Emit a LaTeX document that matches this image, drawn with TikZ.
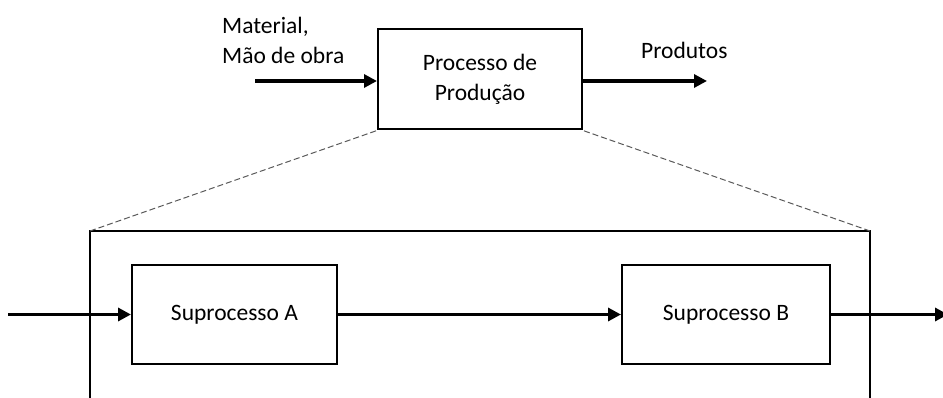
\documentclass[tikz,border=0pt]{standalone}
\usepackage{fontspec}
\setmainfont{Carlito}
\usetikzlibrary{arrows.meta}
\begin{document}
\begin{tikzpicture}[x=1pt,y=-1pt,
  procbox/.style={draw,line width=2pt,minimum width=#1,minimum height=100pt,inner sep=0pt,align=center,font=\fontsize{23.5}{30}\selectfont},
  flow/.style={line width=3.2pt,-{Triangle[length=13pt,width=13pt]}},
  lbl/.style={font=\fontsize{23.5}{30}\selectfont,inner sep=0pt,align=left},
  frame/.style={line width=2.5pt},
  zoomline/.style={dashed,gray!70!black,line width=1pt,dash pattern=on 6pt off 3pt}]
\useasboundingbox (0,0) rectangle (943,398);
\node[procbox=204pt] (top) at (480,79.5) {Processo de\\Produção};
\node[procbox=205pt,minimum height=99pt] (sa) at (234.5,314.5) {Suprocesso A};
\node[procbox=208pt,minimum height=99pt] (sb) at (726,314.5) {Suprocesso B};
\coordinate (in0) at (255,81);
\coordinate (out1) at (707,81);
\coordinate (fl) at (90,231);
\coordinate (fr) at (870,231);
\coordinate (flb) at (90,402);
\coordinate (frb) at (870,402);
\coordinate (lin) at (8,314.5);
\coordinate (rout) at (948,314.5);
\node[lbl,anchor=west] (mat) at (222,40) {Material,\\Mão de obra};
\node[lbl,anchor=base west] (prod) at (641,59) {Produtos};
\draw[flow] (in0) -- (in0 -| top.west);
\draw[flow] (top.east |- out1) -- (out1);
\draw[frame] (flb) -- (fl) -- (fr) -- (frb);
\draw[zoomline] (fl) -- (top.south west);
\draw[zoomline] (fr) -- (top.south east);
\draw[flow] (lin) -- (sa.west);
\draw[flow] (sa.east) -- (sb.west);
\draw[flow] (sb.east) -- (rout);
\end{tikzpicture}
\end{document}
